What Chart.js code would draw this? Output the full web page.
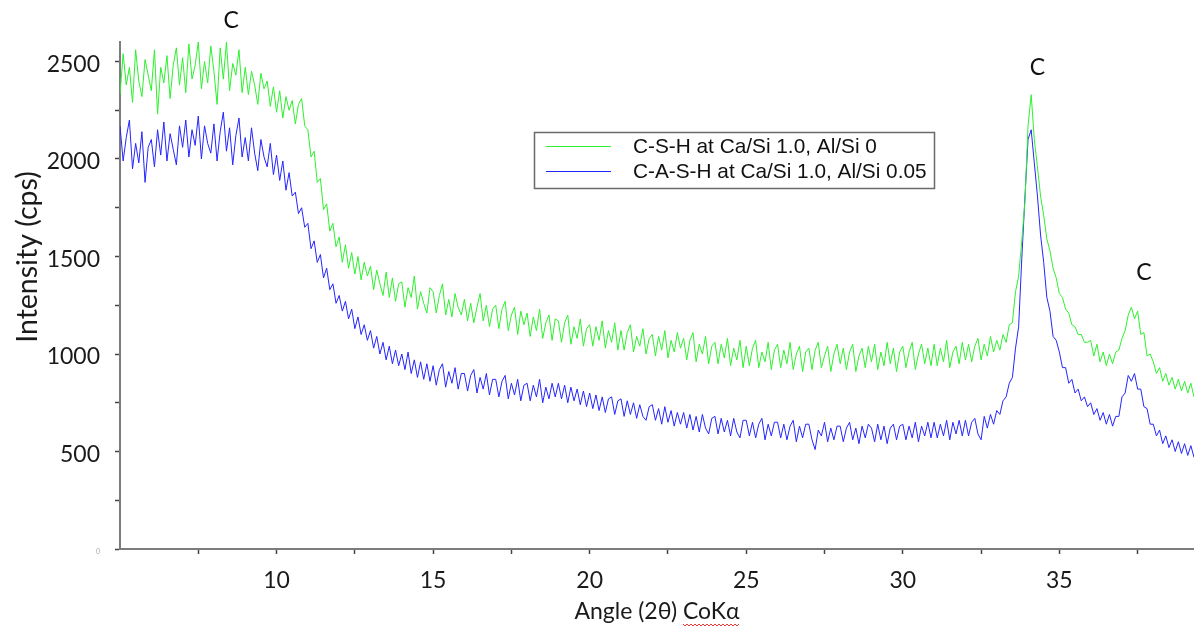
<!DOCTYPE html>
<html lang="en">
<head>
<meta charset="UTF-8">
<title>DRX C-S-H / C-A-S-H</title>
<script src="https://cdn.jsdelivr.net/npm/chart.js@4.4.1/dist/chart.umd.min.js"></script>
<style>
    html, body { margin: 0; padding: 0; background: #fff; }
    #wrap { width: 1194px; height: 640px; }
</style>
</head>
<body>
<div id="wrap"><canvas id="xrdChart" width="1194" height="640"></canvas></div>
<script>
// Grille de mesure (2θ)
const angleDebut = 5.0;
const pasAngle = 0.1;

// Intensités (cps), une ligne = 1 degré
const intensiteCSH = [
    2330, 2540, 2380, 2470, 2290, 2560, 2400, 2320, 2510, 2430,
    2350, 2560, 2230, 2470, 2390, 2530, 2310, 2480, 2570, 2380,
    2520, 2340, 2590, 2410, 2480, 2600, 2360, 2500, 2390, 2580,
    2450, 2280, 2570, 2410, 2600, 2350, 2490, 2430, 2560, 2340,
    2470, 2330, 2450, 2380, 2280, 2440, 2360, 2400, 2270, 2370,
    2240, 2350, 2210, 2320, 2250, 2300, 2180, 2280, 2310, 2170,
    2150, 2010, 2040, 1880, 1900, 1740, 1770, 1630, 1670, 1550,
    1600, 1470, 1560, 1440, 1520, 1410, 1500, 1380, 1470, 1400,
    1450, 1330, 1430, 1360, 1300, 1420, 1290, 1390, 1270, 1360,
    1370, 1240, 1340, 1290, 1400, 1230, 1320, 1260, 1210, 1340,
    1320, 1210, 1300, 1360, 1200, 1280, 1190, 1310, 1240, 1200,
    1280, 1170, 1260, 1160, 1240, 1310, 1170, 1250, 1140, 1230,
    1250, 1130, 1230, 1270, 1120, 1200, 1240, 1100, 1220, 1150,
    1210, 1090, 1190, 1120, 1230, 1080, 1160, 1200, 1070, 1180,
    1170, 1060, 1160, 1200, 1050, 1140, 1080, 1180, 1040, 1130,
    1150, 1040, 1140, 1070, 1170, 1030, 1120, 1060, 1160, 1020,
    1120, 1020, 1110, 1150, 1010, 1090, 1040, 1130, 1000, 1080,
    1100, 990, 1090, 1020, 1120, 980, 1070, 1010, 1110, 1030,
    1080, 970, 1070, 1110, 960, 1050, 1000, 1090, 950, 1040,
    1060, 950, 1050, 980, 1080, 940, 1030, 970, 1070, 930,
    1040, 940, 1030, 1070, 930, 1010, 960, 1060, 920, 1020,
    1050, 930, 1020, 950, 1060, 920, 1000, 1040, 910, 1010,
    1030, 920, 1020, 1060, 930, 990, 1040, 910, 1000, 1050,
    950, 1030, 920, 1010, 1050, 910, 990, 1030, 930, 1040,
    960, 1050, 920, 1010, 940, 1060, 950, 1030, 910, 1010,
    1040, 930, 1010, 1060, 920, 1000, 1050, 950, 1030, 940,
    1050, 940, 1030, 960, 1070, 930, 1010, 1040, 950, 1060,
    970, 1050, 960, 1040, 1080, 970, 1050, 990, 1090, 1010,
    1070, 1020, 1100, 1060, 1150, 1160, 1320, 1400, 1580, 1780,
    2170, 2330, 2100, 1960, 1810, 1710, 1590, 1530, 1440, 1390,
    1310, 1290, 1230, 1210, 1150, 1140, 1100, 1100, 1060, 1060,
    1070, 990, 1050, 960, 1010, 940, 1000, 950, 1010, 1020,
    1080, 1120, 1200, 1240, 1180, 1220, 1100, 1110, 990, 1000,
    960, 900, 930, 860, 900, 840, 880, 820, 870, 810,
    860, 800, 850, 780
];

const intensiteCASH = [
    2170, 1990, 2110, 2200, 1950, 2080, 1980, 2140, 1880, 2060,
    2100, 1960, 2150, 2020, 2190, 1990, 2130, 2050, 1970, 2170,
    2060, 2200, 2010, 2150, 2070, 2220, 2000, 2170, 2080, 2030,
    2180, 1990, 2140, 2240, 2040, 2160, 1970, 2120, 2210, 2010,
    2110, 1990, 2160, 2030, 1940, 2100, 2010, 1960, 2080, 1920,
    2020, 1890, 1990, 1840, 1930, 1810, 1830, 1720, 1750, 1650,
    1670, 1540, 1580, 1470, 1510, 1390, 1440, 1330, 1360, 1260,
    1300, 1220, 1270, 1180, 1230, 1130, 1190, 1100, 1150, 1070,
    1120, 1030, 1090, 1000, 1060, 970, 1040, 950, 1020, 940,
    1000, 920, 1010, 900, 970, 880, 960, 870, 950, 860,
    940, 840, 920, 950, 830, 910, 850, 930, 820, 900,
    900, 810, 890, 920, 800, 880, 820, 900, 790, 870,
    870, 780, 860, 890, 770, 850, 790, 870, 760, 840,
    850, 760, 840, 780, 870, 750, 830, 770, 850, 780,
    850, 770, 840, 750, 830, 760, 820, 740, 810, 730,
    800, 720, 790, 710, 780, 700, 770, 780, 690, 760,
    770, 680, 760, 690, 750, 670, 740, 680, 660, 730,
    740, 660, 720, 640, 730, 650, 710, 630, 700, 640,
    700, 620, 690, 610, 680, 600, 690, 620, 590, 670,
    680, 590, 670, 600, 660, 580, 670, 600, 570, 660,
    660, 580, 650, 570, 640, 670, 560, 640, 580, 650,
    650, 570, 640, 560, 630, 660, 550, 630, 570, 640,
    640, 560, 510, 610, 580, 650, 550, 620, 560, 630,
    630, 550, 620, 650, 560, 620, 540, 630, 570, 640,
    620, 550, 640, 560, 630, 540, 620, 640, 560, 630,
    640, 560, 630, 570, 650, 550, 630, 580, 650, 570,
    650, 570, 640, 580, 660, 560, 650, 590, 660, 580,
    660, 580, 650, 670, 590, 560, 680, 620, 690, 640,
    710, 690, 760, 780, 850, 880, 1030, 1140, 1490, 1800,
    2100, 2150, 1980, 1810, 1610, 1470, 1290, 1220, 1090, 1070,
    1010, 930, 930, 850, 870, 800, 820, 760, 780, 730,
    750, 690, 720, 660, 700, 640, 690, 630, 680, 680,
    780, 800, 890, 860, 900, 820, 820, 730, 720, 640,
    640, 580, 610, 540, 580, 520, 560, 500, 550, 490,
    540, 480, 530, 470
];

const nomsSeries = ['C-S-H at Ca/Si 1.0, Al/Si 0', 'C-A-S-H at Ca/Si 1.0, Al/Si 0.05'];
const couleursSeries = ['#2ef02e', '#2424ff'];

// Graduations des axes
const xTicks = [7.5, 10, 12.5, 15, 17.5, 20, 22.5, 25, 27.5, 30, 32.5, 35, 37.5];
const yTicks = [0, 250, 500, 750, 1000, 1250, 1500, 1750, 2000, 2250, 2500];

// Repères "C" (calcite) : angle, intensité, texte
const picsAngles = [8.55, 34.3, 37.7];
const picsIntensite = [2710, 2467, 1415];
const picsTextes = ['C', 'C', 'C'];

const policeTexte = 'Lato, "Noto Sans", sans-serif';
const titreX = 'Angle (2θ) CoKα';
const titreY = 'Intensity (cps)';

const angles = intensiteCSH.map((_, i) => +(angleDebut + i * pasAngle).toFixed(2));

// Légende encadrée, titre vertical et annotations
const pluginDecor = {
    id: 'decor',
    afterDraw(chart) {
        const { ctx, scales: { x, y } } = chart;
        ctx.save();

        // lettres C au-dessus des pics
        ctx.font = '23px ' + policeTexte;
        ctx.fillStyle = '#111';
        ctx.textAlign = 'center';
        ctx.textBaseline = 'middle';
        picsAngles.forEach((a, i) => {
            ctx.fillText(picsTextes[i], x.getPixelForValue(a), y.getPixelForValue(picsIntensite[i]));
        });

        // soulignement ondulé rouge sous "CoKα"
        const largeurTotale = ctx.measureText(titreX).width;
        const debut = (x.left + x.right) / 2 - largeurTotale / 2 + ctx.measureText('Angle (2θ) ').width;
        const fin = debut + ctx.measureText('CoKα').width;
        ctx.strokeStyle = '#e03030';
        ctx.lineWidth = 1;
        ctx.beginPath();
        for (let px = debut, k = 0; px <= fin; px += 2, k++) {
            const py = 624 + (k % 2 === 0 ? 0 : 2);
            if (k === 0) ctx.moveTo(px, py); else ctx.lineTo(px, py);
        }
        ctx.stroke();

        // titre de l'axe vertical (un peu au-dessus du milieu, comme l'original)
        ctx.save();
        ctx.translate(28, 257);
        ctx.rotate(-Math.PI / 2);
        ctx.font = '28.5px ' + policeTexte;
        ctx.fillStyle = '#1a1a1a';
        ctx.fillText(titreY, 0, 0);
        ctx.restore();

        // légende
        ctx.strokeStyle = '#6a6a6a';
        ctx.lineWidth = 1.5;
        ctx.strokeRect(534.5, 132.5, 400, 56);
        ctx.font = '20.8px "Liberation Sans", Arial, sans-serif';
        ctx.textAlign = 'left';
        ctx.fillStyle = '#111';
        nomsSeries.forEach((nom, i) => {
            const ly = 146 + i * 25;
            ctx.strokeStyle = couleursSeries[i];
            ctx.lineWidth = 1;
            ctx.beginPath();
            ctx.moveTo(546, ly + 0.5);
            ctx.lineTo(611, ly + 0.5);
            ctx.stroke();
            ctx.fillText(nom, 633, ly + 1);
        });
        ctx.restore();
    }
};

const ctx = document.getElementById('xrdChart').getContext('2d');

new Chart(ctx, {
    type: 'line',
    data: {
        datasets: [intensiteCSH, intensiteCASH].map((serie, i) => ({
            label: nomsSeries[i],
            data: serie.map((v, j) => ({ x: angles[j], y: v })),
            borderColor: couleursSeries[i],
            borderWidth: 1,
            pointRadius: 0,
            tension: 0,
            fill: false
        }))
    },
    options: {
        responsive: false,
        animation: false,
        layout: { padding: { top: 42, right: 0, bottom: 0, left: 0 } },
        plugins: {
            legend: { display: false },
            tooltip: { enabled: false }
        },
        scales: {
            x: {
                type: 'linear',
                min: 5,
                max: 39.3,
                afterBuildTicks: (axis) => { axis.ticks = xTicks.map(v => ({ value: v })); },
                afterFit: (axis) => { axis.height = 91; },
                border: { display: true, color: '#7c7c7c', width: 2 },
                grid: { display: true, drawOnChartArea: false, drawTicks: true, tickLength: 5, tickColor: '#444', tickWidth: 1.5 },
                ticks: {
                    autoSkip: false,
                    maxRotation: 0,
                    padding: 13,
                    color: '#1a1a1a',
                    font: { family: policeTexte, size: 23 },
                    callback: (value) => (value % 5 === 0 ? String(value) : '')
                },
                title: {
                    display: true,
                    text: titreX,
                    color: '#1a1a1a',
                    font: { family: policeTexte, size: 23 },
                    padding: { top: 0, bottom: 15 }
                }
            },
            y: {
                type: 'linear',
                min: 0,
                max: 2600,
                afterBuildTicks: (axis) => { axis.ticks = yTicks.map(v => ({ value: v })); },
                afterFit: (axis) => { axis.width = 120; },
                border: { display: true, color: '#7c7c7c', width: 2 },
                grid: { display: true, drawOnChartArea: false, drawTicks: true, tickLength: 5, tickColor: '#444', tickWidth: 1.5 },
                ticks: {
                    autoSkip: false,
                    padding: 15,
                    labelOffset: 3,
                    color: (c) => (c.tick && c.tick.value === 0 ? '#aaa' : '#1a1a1a'),
                    font: (c) => ({ family: policeTexte, size: c.tick && c.tick.value === 0 ? 7 : 23 }),
                    callback: (value) => (value % 500 === 0 ? String(value) : '')
                },
                title: { display: false }
            }
        }
    },
    plugins: [pluginDecor]
});
</script>
</body>
</html>
